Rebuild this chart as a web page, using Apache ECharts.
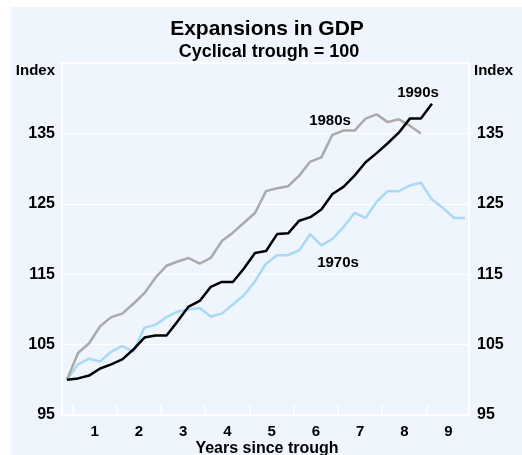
<!DOCTYPE html>
<html>
<head>
<meta charset="utf-8">
<script src="https://cdn.jsdelivr.net/npm/echarts@6/dist/echarts.min.js"></script>
<style>
  html, body { margin: 0; padding: 0; background: #fff; }
  #chart { width: 522px; height: 455px; }
</style>
</head>
<body>
<div id="chart"></div>
<script>
// quarters since trough, index = quarter number
var s1990 = [100, 100.2, 100.6, 101.6, 102.2, 102.9, 104.3, 106.0, 106.3, 106.3,
  108.3, 110.4, 111.2, 113.2, 113.9, 113.9, 115.8, 118.0, 118.3, 120.7,
  120.8, 122.6, 123.1, 124.2, 126.4, 127.4, 129.0, 130.9, 132.2, 133.6,
  135.1, 137.1, 137.1, 139.2];
var s1980 = [100, 103.8, 105.2, 107.6, 108.9, 109.4, 110.8, 112.3, 114.5, 116.2,
  116.8, 117.3, 116.5, 117.3, 119.7, 120.9, 122.3, 123.7, 126.8, 127.2,
  127.5, 129.0, 131.0, 131.6, 134.8, 135.4, 135.4, 137.1, 137.7, 136.6,
  137.0, 136.1, 135.0];
var s1970 = [100, 102.2, 103.0, 102.6, 104.0, 104.8, 104.0, 107.4, 107.8, 108.9,
  109.7, 110.0, 110.2, 109.0, 109.4, 110.7, 112.0, 114.0, 116.5, 117.7,
  117.7, 118.4, 120.7, 119.1, 120.0, 121.7, 123.7, 123.0, 125.3, 126.8,
  126.8, 127.6, 128.0, 125.6, 124.4, 123.0, 123.0];

var yearTicks = [0.5, 4.5, 8.5, 12.5, 16.5, 20.5, 24.5, 28.5, 32.5];   // year boundaries
var yearLabels = [2.5, 6.5, 10.5, 14.5, 18.5, 22.5, 26.5, 30.5, 34.5]; // mid-year
var yTicks = [95, 105, 115, 125, 135];

var FONT = 'Liberation Sans, Arial, sans-serif';

function pairs(arr) {
  return arr.map(function (v, i) { return [i, v]; });
}

var myChart = echarts.init(document.getElementById('chart'));

function yAxisCfg(pos) {
  return {
    type: 'value',
    position: pos,
    min: 95,
    max: 145,
    axisLine: { show: false },
    axisTick: { show: false, customValues: yTicks },
    axisLabel: {
      customValues: yTicks,
      color: '#000',
      fontSize: 16,
      fontWeight: 'bold',
      fontFamily: FONT,
      margin: pos === 'left' ? 7 : 8
    },
    splitLine: { show: pos === 'left', lineStyle: { color: '#fff', width: 1 } }
  };
}

var option = {
  backgroundColor: '#fff',
  animation: false,
  title: [{
    text: 'Expansions in GDP',
    left: 262,
    top: 14,
    textAlign: 'center',
    textStyle: { fontSize: 21, fontWeight: 'bold', color: '#000', fontFamily: FONT }
  }, {
    text: 'Cyclical trough = 100',
    left: 264,
    top: 38,
    textAlign: 'center',
    textStyle: { fontSize: 18, fontWeight: 'bold', color: '#000', fontFamily: FONT }
  }],
  grid: {
    left: 62,
    right: 53,
    top: 63,
    bottom: 40,
    show: true,
    borderColor: '#fff',
    borderWidth: 2,
    backgroundColor: 'transparent'
  },
  graphic: [{
    type: 'rect',
    z: -100,
    silent: true,
    shape: { x: 11, y: 7, width: 511, height: 448 },
    style: { fill: '#EEF5FC' }
  }, {
    type: 'text', x: 55, y: 71, silent: true,
    style: { text: 'Index', align: 'right', verticalAlign: 'middle', fill: '#000', font: 'bold 15px ' + FONT }
  }, {
    type: 'text', x: 474, y: 71, silent: true,
    style: { text: 'Index', align: 'left', verticalAlign: 'middle', fill: '#000', font: 'bold 15px ' + FONT }
  }, {
    type: 'text', x: 267, y: 449, silent: true,
    style: { text: 'Years since trough', align: 'center', verticalAlign: 'middle', fill: '#000', font: 'bold 16px ' + FONT }
  }, {
    type: 'text', x: 330, y: 121, silent: true,
    style: { text: '1980s', align: 'center', verticalAlign: 'middle', fill: '#000', font: 'bold 15px ' + FONT }
  }, {
    type: 'text', x: 418, y: 93, silent: true,
    style: { text: '1990s', align: 'center', verticalAlign: 'middle', fill: '#000', font: 'bold 15px ' + FONT }
  }, {
    type: 'text', x: 338, y: 263, silent: true,
    style: { text: '1970s', align: 'center', verticalAlign: 'middle', fill: '#000', font: 'bold 15px ' + FONT }
  }],
  xAxis: {
    type: 'value',
    min: -0.45,
    max: 36.35,
    axisLine: { show: true, lineStyle: { color: '#fff', width: 2 } },
    axisTick: {
      show: true,
      inside: true,
      length: 10,
      customValues: yearTicks,
      lineStyle: { color: '#fff', width: 1.5 }
    },
    axisLabel: {
      customValues: yearLabels,
      formatter: function (v) { return String(Math.round((v + 1.5) / 4)); },
      color: '#000',
      fontSize: 15,
      fontWeight: 'bold',
      fontFamily: FONT,
      margin: 9
    },
    splitLine: { show: false }
  },
  yAxis: [yAxisCfg('left'), yAxisCfg('right')],
  series: [{
    name: '1970s',
    type: 'line',
    data: pairs(s1970),
    showSymbol: false,
    lineStyle: { color: '#A9D9F5', width: 2.5 },
    z: 3
  }, {
    name: '1980s',
    type: 'line',
    data: pairs(s1980),
    showSymbol: false,
    lineStyle: { color: '#AAAAAA', width: 2.5 },
    z: 4
  }, {
    name: '1990s',
    type: 'line',
    data: pairs(s1990),
    showSymbol: false,
    lineStyle: { color: '#000000', width: 2.5 },
    z: 5
  }]
};

myChart.setOption(option);
</script>
</body>
</html>
